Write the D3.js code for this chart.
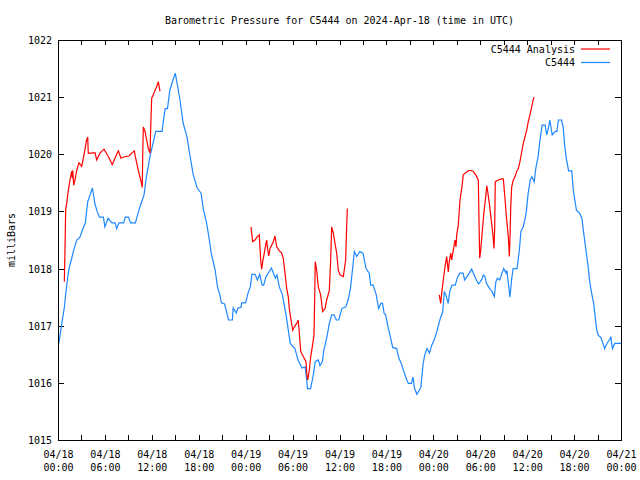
<!DOCTYPE html>
<html>
<head>
<meta charset="utf-8">
<script src="https://cdn.jsdelivr.net/npm/d3@7"></script>
<style>
  html, body { margin: 0; padding: 0; background: #fff; }
  svg text { font-family: "DejaVu Sans Mono", "Liberation Mono", monospace; font-size: 10px; fill: #000; }
</style>
</head>
<body>
<svg id="chart" width="640" height="480"></svg>
<script>
// ---- data (hours since 2024-04-18 00:00 UTC, pressure in milliBars) ----
const title = "Barometric Pressure for C5444 on 2024-Apr-18 (time in UTC)";
const yLabel = "milliBars";
const seriesNames = ["C5444 Analysis", "C5444"];
const yTicks = [1015, 1016, 1017, 1018, 1019, 1020, 1021, 1022];

const stationHours = [0.1,0.5,0.8,1.0,1.2,1.4,1.7,2.0,2.4,2.8,3.2,3.5,3.8,4.1,4.4,4.7,5.0,5.3,5.8,6.0,6.4,6.9,7.3,7.5,7.8,8.4,8.6,9.0,9.3,9.9,10.3,10.7,11.0,11.3,11.8,12.1,12.5,13.3,13.7,14.0,14.3,14.7,15.0,15.6,16.0,16.5,16.8,17.3,17.8,18.3,18.6,19.0,19.3,19.6,20.1,20.4,20.7,20.9,21.3,21.6,21.8,22.3,22.4,22.8,23.0,23.4,23.5,24.0,24.3,24.6,24.8,25.2,25.5,25.8,26.1,26.3,26.6,26.9,27.3,27.8,28.0,28.3,28.7,29.2,29.7,30.3,30.7,31.2,31.6,31.8,31.9,32.3,32.6,32.9,33.3,33.5,33.8,34.0,34.4,34.7,35.0,35.3,35.6,35.9,36.3,36.8,37.1,37.4,37.7,37.9,38.2,38.6,39.0,39.4,39.8,40.0,40.3,40.7,41.0,41.3,41.5,41.7,41.9,42.2,42.5,42.8,43.3,43.6,43.9,44.3,44.6,44.8,45.2,45.4,45.6,45.9,46.2,46.4,46.7,46.9,47.2,47.5,47.8,48.1,48.4,48.6,48.9,49.2,49.4,49.6,49.9,50.1,50.4,50.8,51.1,51.4,51.8,52.0,52.3,52.6,52.9,53.3,53.5,53.8,54.2,54.4,54.6,54.8,55.2,55.5,55.8,56.0,56.2,56.5,56.7,57.0,57.3,57.4,57.7,57.8,58.0,58.2,58.7,59.0,59.2,59.5,59.7,59.9,60.1,60.4,60.6,60.9,61.1,61.4,61.6,61.8,61.9,62.3,62.5,62.7,62.9,63.2,63.6,63.8,64.0,64.4,64.6,64.8,65.0,65.3,65.7,65.9,66.1,66.3,66.7,67.0,67.2,67.4,67.6,67.8,68.0,68.2,68.5,68.7,68.9,69.1,69.4,69.7,69.9,70.2,70.5,70.7,70.9,71.2,72.0];
const stationValues = [1016.69,1017.05,1017.31,1017.57,1017.8,1018.0,1018.15,1018.32,1018.5,1018.55,1018.7,1018.8,1019.17,1019.29,1019.41,1019.15,1019.0,1018.9,1018.9,1018.73,1018.88,1018.8,1018.8,1018.7,1018.8,1018.8,1018.9,1018.9,1018.8,1018.8,1019.0,1019.17,1019.29,1019.6,1019.99,1020.16,1020.4,1020.4,1020.8,1020.8,1021.12,1021.3,1021.42,1020.95,1020.55,1020.3,1020.04,1019.64,1019.41,1019.32,1019.03,1018.8,1018.55,1018.27,1017.97,1017.68,1017.54,1017.4,1017.38,1017.22,1017.1,1017.1,1017.31,1017.22,1017.31,1017.32,1017.4,1017.4,1017.57,1017.68,1017.9,1017.9,1017.8,1017.9,1017.71,1017.71,1017.86,1017.92,1018.01,1017.83,1017.89,1017.68,1017.54,1017.16,1016.69,1016.6,1016.4,1016.26,1016.28,1016.05,1015.9,1015.9,1016.1,1016.37,1016.4,1016.3,1016.37,1016.57,1016.81,1017.04,1017.19,1017.19,1017.1,1017.1,1017.3,1017.33,1017.45,1017.65,1018.03,1018.3,1018.21,1018.3,1018.27,1018.0,1017.92,1017.71,1017.71,1017.54,1017.3,1017.39,1017.39,1017.22,1017.19,1016.98,1016.81,1016.62,1016.6,1016.43,1016.34,1016.17,1016.05,1015.99,1015.99,1016.1,1015.9,1015.8,1015.87,1015.92,1016.34,1016.49,1016.6,1016.52,1016.66,1016.75,1016.87,1016.98,1017.13,1017.24,1017.6,1017.54,1017.39,1017.6,1017.71,1017.71,1017.85,1017.92,1017.92,1017.8,1017.86,1017.92,1017.99,1017.86,1017.8,1017.73,1017.81,1017.89,1017.86,1017.74,1017.65,1017.6,1017.51,1017.77,1017.83,1017.8,1017.89,1018.0,1017.92,1017.97,1017.62,1017.5,1017.8,1018.0,1018.0,1018.32,1018.65,1018.73,1018.85,1019.0,1019.29,1019.55,1019.61,1019.52,1019.75,1019.96,1020.2,1020.4,1020.51,1020.51,1020.34,1020.45,1020.6,1020.34,1020.4,1020.4,1020.6,1020.6,1020.48,1020.16,1019.93,1019.71,1019.71,1019.37,1019.2,1019.02,1018.97,1018.88,1018.65,1018.44,1018.24,1018.03,1017.77,1017.6,1017.39,1017.16,1016.92,1016.83,1016.8,1016.69,1016.6,1016.69,1016.75,1016.8,1016.6,1016.69,1016.69];

const analysisHours1 = [0.81,0.9,0.98,1.11,1.32,1.53,1.75,1.83,1.88,2.01,2.17,2.39,2.69,3.03,3.24,3.54,3.67,3.8,3.87,4.31,4.73,4.95,5.37,5.88,6.43,6.94,7.38,7.71,8.06,8.57,9.08,9.43,9.76,9.98,10.27,10.58,10.78,10.83,10.91,11.13,11.34,11.55,11.77,11.86,11.98,12.19,12.41,12.62,12.83,13.04];
const analysisValues1 = [1017.77,1018.38,1019.03,1019.14,1019.37,1019.55,1019.7,1019.58,1019.72,1019.46,1019.55,1019.72,1019.85,1019.79,1019.93,1020.16,1020.25,1020.3,1020.02,1020.02,1020.03,1019.9,1020.02,1020.09,1019.96,1019.82,1019.96,1020.06,1019.93,1019.96,1019.97,1020.02,1020.06,1019.9,1019.72,1019.55,1019.42,1019.96,1020.48,1020.4,1020.25,1020.1,1020.02,1020.48,1020.98,1021.04,1021.12,1021.18,1021.27,1021.1];
const analysisHours2 = [24.68,24.9,25.19,25.49,25.74,25.92,26.05,26.18,26.34,26.56,26.69,26.82,26.95,27.11,27.33,27.53,27.75,27.97,28.3,28.61,28.81,29.03,29.25,29.45,29.58,29.8,30.02,30.22,30.53,30.73,30.86,31.04,31.37,31.72,31.81,31.93,32.14,32.32,32.52,32.74,32.83,32.9,33.08,33.29,33.59,33.85,34.15,34.36,34.7,34.87,35.0,35.21,35.42,35.64,35.85,36.06,36.49,36.79,36.92,37.0];
const analysisValues2 = [1018.73,1018.47,1018.5,1018.56,1018.59,1018.15,1017.99,1018.12,1018.24,1018.41,1018.5,1018.33,1018.22,1018.35,1018.41,1018.47,1018.57,1018.38,1018.31,1018.27,1018.18,1017.92,1017.65,1017.51,1017.3,1017.1,1016.92,1016.98,1017.04,1017.1,1016.87,1016.55,1016.46,1016.37,1016.17,1016.05,1016.22,1016.46,1016.63,1016.84,1017.51,1018.12,1017.97,1017.68,1017.54,1017.25,1017.3,1017.45,1017.62,1018.15,1018.73,1018.62,1018.44,1018.27,1017.97,1017.89,1017.86,1018.15,1018.76,1019.05];
const analysisHours3 = [48.76,48.94,49.07,49.27,49.49,49.71,49.91,50.04,50.22,50.35,50.55,50.77,50.9,50.99,51.19,51.41,51.63,51.83,52.05,52.47,52.78,53.11,53.46,53.75,53.84,53.93,54.06,54.27,54.48,54.7,54.83,54.95,55.16,55.38,55.6,55.76,55.85,55.92,56.31,56.74,56.95,57.16,57.38,57.59,57.72,57.81,57.9,58.02,58.23,58.45,58.66,58.87,59.08,59.3,59.51,59.72,59.94,60.14,60.36,60.58,60.78,60.91];
const analysisValues3 = [1017.54,1017.39,1017.57,1017.8,1018.03,1018.21,1017.94,1018.12,1018.27,1018.15,1018.32,1018.5,1018.38,1018.59,1018.76,1019.2,1019.4,1019.64,1019.67,1019.71,1019.72,1019.7,1019.63,1019.55,1018.85,1018.18,1018.32,1018.67,1019.0,1019.26,1019.45,1019.35,1019.14,1018.88,1018.62,1018.35,1018.73,1019.52,1019.55,1019.57,1019.57,1019.23,1018.85,1018.56,1018.21,1018.56,1019.08,1019.43,1019.55,1019.61,1019.7,1019.75,1019.87,1020.04,1020.19,1020.31,1020.42,1020.57,1020.69,1020.83,1020.96,1021.0];

// ---- chart ----
const W = 640, H = 480;
const M = { left: 58, right: 621, top: 40, bottom: 440 };
const t0 = Date.UTC(2024, 3, 18, 0, 0);
const toDate = h => new Date(t0 + h * 3600000);

const svg = d3.select("#chart");

const x = d3.scaleUtc()
  .domain([toDate(0), toDate(72)])
  .range([M.left, M.right]);
const y = d3.scaleLinear()
  .domain([1015, 1022])
  .range([M.bottom, M.top]);

const majorTicks = d3.range(0, 73, 6).map(toDate);
const minorTicks = d3.range(0, 73, 3).map(toDate);

// ticks (inward on all four sides)
const tickG = svg.append("g").attr("stroke", "#000").attr("stroke-width", 1).attr("shape-rendering", "crispEdges");
minorTicks.forEach(d => {
  const xx = Math.round(x(d)) + 0.5;
  tickG.append("line").attr("x1", xx).attr("x2", xx).attr("y1", M.bottom).attr("y2", M.bottom - 5);
  tickG.append("line").attr("x1", xx).attr("x2", xx).attr("y1", M.top).attr("y2", M.top + 5);
});
yTicks.forEach(v => {
  const yy = Math.round(y(v)) + 0.5;
  tickG.append("line").attr("x1", M.left).attr("x2", M.left + 6).attr("y1", yy).attr("y2", yy);
  tickG.append("line").attr("x1", M.right).attr("x2", M.right - 6).attr("y1", yy).attr("y2", yy);
});

// y tick labels via axis generator (lines hidden)
const yAxis = svg.append("g")
  .attr("transform", `translate(${M.left},0)`)
  .call(d3.axisLeft(y).tickValues(yTicks).tickFormat(d3.format("d")).tickSize(0).tickPadding(6));
yAxis.select(".domain").remove();
yAxis.selectAll("text").attr("font-family", "DejaVu Sans Mono").attr("font-size", 10).attr("dy", "0.35em");

// x tick labels (two lines)
const fmtDate = d3.utcFormat("%m/%d"), fmtTime = d3.utcFormat("%H:%M");
const xAxis = svg.append("g")
  .attr("transform", `translate(0,${M.bottom})`)
  .call(d3.axisBottom(x).tickValues(majorTicks).tickFormat("").tickSize(0));
xAxis.select(".domain").remove();
xAxis.selectAll(".tick").each(function(d) {
  const g = d3.select(this);
  g.select("text").remove();
  g.append("text").attr("y", 18).attr("text-anchor", "middle").text(fmtDate(d));
  g.append("text").attr("y", 31).attr("text-anchor", "middle").text(fmtTime(d));
});

// lines
const line = d3.line().x(d => x(toDate(d[0]))).y(d => y(d[1]));
const zip = (a, b) => a.map((h, i) => [h, b[i]]);

svg.append("path")
  .datum(zip(stationHours, stationValues))
  .attr("fill", "none").attr("stroke", "#1e88ff").attr("stroke-width", 1.2)
  .attr("d", line);

[[analysisHours1, analysisValues1], [analysisHours2, analysisValues2], [analysisHours3, analysisValues3]].forEach(([h, v]) => {
  svg.append("path")
    .datum(zip(h, v))
    .attr("fill", "none").attr("stroke", "#ff0000").attr("stroke-width", 1.2)
    .attr("d", line);
});

// frame
svg.append("rect")
  .attr("x", M.left + 0.5).attr("y", M.top + 0.5)
  .attr("width", M.right - M.left).attr("height", M.bottom - M.top)
  .attr("fill", "none").attr("stroke", "#000").attr("stroke-width", 1.2).attr("shape-rendering", "crispEdges");

// title
svg.append("text").attr("x", (M.left + M.right) / 2).attr("y", 24)
  .attr("text-anchor", "middle").text(title);

// y label
svg.append("text")
  .attr("transform", `translate(15,${(M.top + M.bottom) / 2}) rotate(-90)`)
  .attr("text-anchor", "middle").text(yLabel);

// legend
const legendColors = ["#ff0000", "#1e88ff"];
seriesNames.forEach((name, i) => {
  const ly = 49 + i * 13.5;
  svg.append("text").attr("x", 575).attr("y", ly).attr("dy", "0.35em")
    .attr("text-anchor", "end").text(name);
  svg.append("line").attr("x1", 581).attr("x2", 610).attr("y1", ly).attr("y2", ly)
    .attr("stroke", legendColors[i]).attr("stroke-width", 1.2);
});
</script>
</body>
</html>
